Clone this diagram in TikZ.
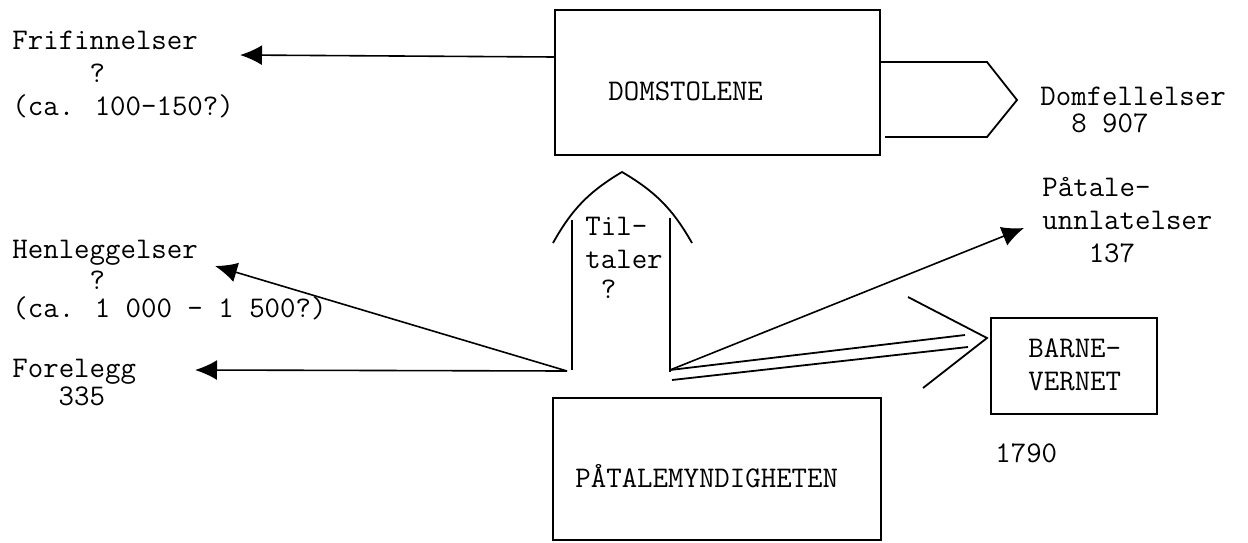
\documentclass[tikz,border=0pt]{standalone}
\usepackage{fontspec}
\usetikzlibrary{arrows.meta, positioning}
\tikzset{
  box/.style={draw, line width=1pt, inner sep=0pt},
  lbl/.style={font=\ttfamily\fontsize{15}{16.5}\selectfont, inner sep=0pt, align=left, anchor=base west},
  arr/.style={line width=0.8pt, -{Latex[length=11pt, width=10pt]}},
  wire/.style={line width=0.9pt},
}
\begin{document}
\begin{tikzpicture}[x=0.5pt, y=-0.5pt]
\useasboundingbox (0,0) rectangle (1248,542);
% boxes
\node[box, minimum width=162.5pt, minimum height=72.5pt] (dom) at (717.5,82.5) {};
\node[box, minimum width=164pt, minimum height=71pt] (pat) at (717,469) {};
\node[box, minimum width=83pt, minimum height=48pt] (barne) at (1074,366) {};
% texts (placed at the baseline of the last line)
\node[lbl] (domtxt) at (608,100) {DOMSTOLENE};
\node[lbl] (pattxt) at (575,487) {PÅTALEMYNDIGHETEN};
\node[lbl] (barnetxt) at (1028,390) {BARNE-\\VERNET};
% labels
\node[lbl] (fri) at (12,115) {Frifinnelser\\\phantom{00000}?\\(ca. 100-150?)};
\node[lbl] (hen) at (12,317) {Henleggelser\\[-1pt]\phantom{00000}?\\[-2.5pt](ca. 1 000 - 1 500?)};
\node[lbl] (fore) at (12,405) {Forelegg\\[-2.5pt]\phantom{000}335};
\node[lbl] (domf) at (1040,132) {Domfellelser\\[-3pt]\phantom{00}8 907};
\node[lbl] (unnl) at (1042,262) {Påtale-\\unnlatelser\\\phantom{000}137};
\node[lbl] (tilt) at (585,298) {Til-\\taler\\[-1.5pt]\phantom{0}?};
\node[lbl] (antall) at (995,462) {1790};
% ends
\coordinate (stemL) at (567,371);
\coordinate (stemR) at (670,370);
\coordinate (friTip) at (240,55);
\coordinate (henTip) at (215,266);
\coordinate (foreTip) at (195,370);
\coordinate (unnlTip) at (1024,228);
\coordinate (domOut) at (555,57);
% connectors
\draw[arr] (domOut) -- (friTip);
\draw[arr] (stemL) -- (henTip);
\draw[arr] (stemL) -- (foreTip);
\draw[arr] (stemR) -- (unnlTip);
% domfellelser
\draw[wire] (880,62) -- (987,62) -- (1017,100) -- (987,137) -- (885,137);
% tiltaler
\draw[wire] (572,370) -- (572,220);
\draw[wire] (670,372) -- (670,218);
\draw[wire] (553,243) to[bend left=15] (622,172) to[bend left=15] (692,243);
% barnevernet
\draw[wire] (stemR) -- (965,335);
\draw[wire] (672,380) -- (968,347);
\draw[wire] (908,297) -- (987,338) -- (923,388);
\end{tikzpicture}
\end{document}
